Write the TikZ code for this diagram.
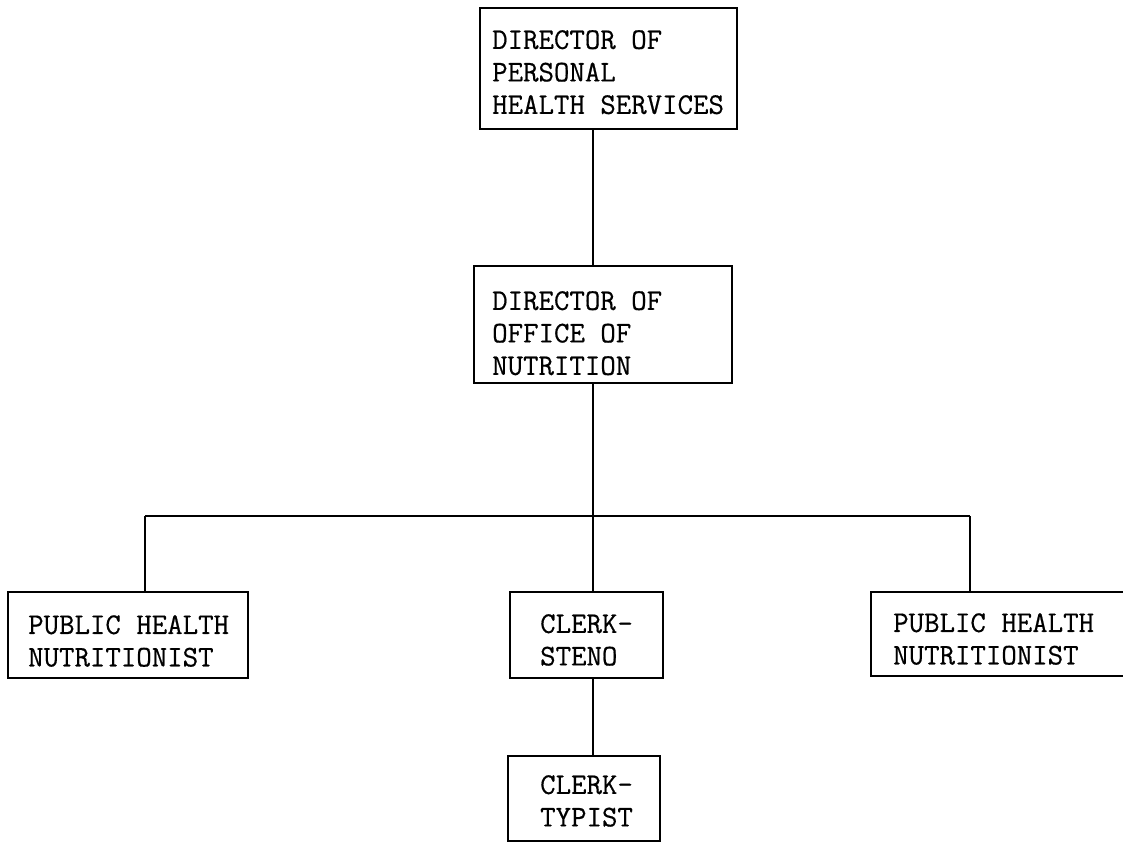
\documentclass[tikz,border=0pt]{standalone}
\usepackage{fontspec}
\newfontfamily\typewr[FakeBold=0.5]{Latin Modern Mono}
\usetikzlibrary{calc}
\begin{document}
\begin{tikzpicture}[x=1pt,y=-1pt,
  box/.style={draw=black,line width=1.6pt,rectangle,inner sep=0pt,anchor=north west},
  txt/.style={anchor=north west,inner sep=0pt,align=left,font=\typewr\fontsize{30}{32.5}\selectfont},
  link/.style={draw=black,line width=2pt}]
\useasboundingbox (0,0) rectangle (1123,842);
% boxes
\node[box,minimum width=257pt,minimum height=121pt] (b1) at (479,7) {};
\node[box,minimum width=258pt,minimum height=117pt] (b2) at (473,265) {};
\node[box,minimum width=240pt,minimum height=86pt] (bl) at (7,591) {};
\node[box,minimum width=153pt,minimum height=86pt] (bm) at (509,591) {};
\node[box,minimum width=280pt,minimum height=84pt] (br) at (870,591) {};
\node[box,minimum width=152pt,minimum height=85pt] (bb) at (507,755) {};
% texts
\node[txt] (t1) at (492,30) {DIRECTOR OF\\PERSONAL\\HEALTH SERVICES};
\node[txt] (t2) at (492,291) {DIRECTOR OF\\OFFICE OF\\NUTRITION};
\node[txt] (tl) at (28,615) {PUBLIC HEALTH\\NUTRITIONIST};
\node[txt] (tm) at (540,614) {CLERK-\\STENO};
\node[txt] (tr) at (893,613) {PUBLIC HEALTH\\NUTRITIONIST};
\node[txt] (tb) at (540,775) {CLERK-\\TYPIST};
% junctions
\coordinate (jl) at (145,516);
\coordinate (jm) at (593,516);
\coordinate (jr) at (970,516);
% connectors
\draw[link] (b1.south -| jm) -- (b2.north -| jm);
\draw[link] (b2.south -| jm) -- (jm);
\draw[link] (jl) -- (jr);
\draw[link] (jl) -- (bl.north -| jl);
\draw[link] (jm) -- (bm.north -| jm);
\draw[link] (jr) -- (br.north -| jr);
\draw[link] (bm.south -| jm) -- (bb.north -| jm);
\end{tikzpicture}
\end{document}
